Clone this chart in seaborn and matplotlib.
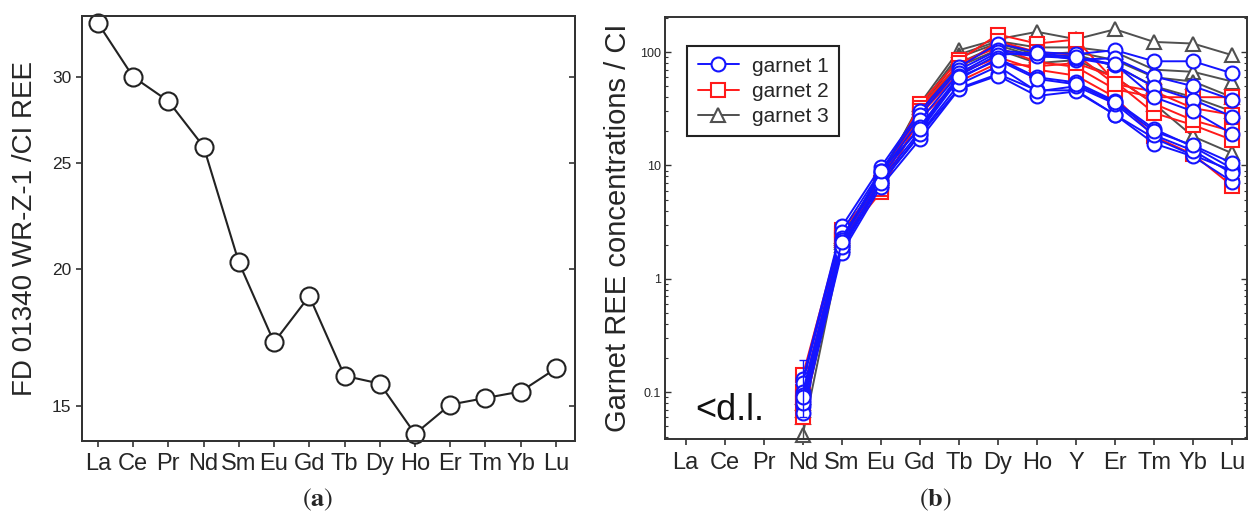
# Patrones de REE normalizados a condrito CI
# (a) roca total FD 01340 WR-Z-1, (b) granates

import pandas as pd
import matplotlib
matplotlib.use("Agg")
import matplotlib.pyplot as plt
import seaborn as sns
from matplotlib.lines import Line2D
from matplotlib.ticker import FixedLocator, NullLocator, FuncFormatter, LogLocator, NullFormatter

# ----------------------------------------------------------------
# Datos panel (a)
elementos_a = ['La', 'Ce', 'Pr', 'Nd', 'Sm', 'Eu', 'Gd', 'Tb', 'Dy', 'Ho', 'Er', 'Tm', 'Yb', 'Lu']
wr_ci = [33.6, 30.0, 28.5, 25.9, 20.3, 17.15, 18.9, 15.98, 15.72, 14.14, 15.04, 15.25, 15.46, 16.23]
ticks_a = [15, 20, 25, 30]

# Datos panel (b): La, Ce, Pr por debajo del limite de deteccion -> valores desde Nd hasta Lu
elementos_b = ['La', 'Ce', 'Pr', 'Nd', 'Sm', 'Eu', 'Gd', 'Tb', 'Dy', 'Ho', 'Y', 'Er', 'Tm', 'Yb', 'Lu']
medidos_b = ['Nd', 'Sm', 'Eu', 'Gd', 'Tb', 'Dy', 'Ho', 'Y', 'Er', 'Tm', 'Yb', 'Lu']
ticks_b = [0.1, 1, 10, 100]

garnet1 = [
    [0.13, 2.9, 9.7, 30, 74, 119, 100, 96, 104, 83, 83, 65],
    [0.12, 2.6, 9.0, 28, 70, 104, 96, 86, 88, 61, 50, 38],
    [0.10, 2.3, 8.5, 25, 65, 100, 92, 88, 77, 49, 38, 27],
    [0.095, 2.2, 8.0, 22, 62, 95, 98, 90, 78, 40, 30, 19],
    [0.085, 2.0, 7.5, 20, 58, 88, 60, 54, 37, 21, 14.6, 9.4],
    [0.075, 1.8, 7.0, 18.5, 48, 64, 46, 46, 28, 17.4, 12.3, 9.0],
    [0.065, 1.7, 6.5, 17, 47, 62, 41, 45, 28, 15.6, 12.0, 7.2],
    [0.08, 1.9, 7.0, 19, 52, 75, 45, 50, 35, 18.5, 13.5, 8.5],
    [0.09, 2.1, 9.0, 21, 60, 85, 58, 52, 36, 20, 15, 10.5],
]
garnet2 = [
    [0.14, 2.7, 7.0, 35, 85, 143, 119, 129, 55, 29, 22.7, 16.8],
    [0.10, 2.4, 6.5, 32, 80, 110, 82, 74, 47, 40, 40, 40],
    [0.06, 2.2, 5.8, 28, 65, 90, 70, 62, 40, 18, 12.5, 6.6],
    [0.08, 2.5, 6.2, 26, 55, 80, 75, 80, 60, 35, 25, 20],
    [0.09, 2.3, 6.8, 30, 72, 125, 100, 95, 52, 45, 32, 28],
]
garnet3 = [
    [0.042, 2.0, 8.0, 35, 104, 130, 151, 130, 159, 123, 119, 94],
    [0.06, 2.3, 8.5, 33, 95, 125, 110, 110, 100, 70, 67, 55],
    [0.08, 2.1, 7.5, 30, 80, 115, 90, 95, 75, 50, 40, 30],
    [0.07, 2.2, 7.8, 28, 75, 105, 80, 85, 60, 35, 18, 12.8],
    [0.09, 2.4, 8.0, 31, 90, 120, 95, 100, 85, 60, 55, 40],
]
# barras de error en Nd (primer analisis de cada grupo)
nd_err_g1 = [0.07, 0.06]   # [abajo, arriba]
nd_err_g3 = [0.005, 0.02]

colores = {'garnet 1': '#1414ff', 'garnet 2': '#ff1a1a', 'garnet 3': '#505050'}
marcadores = {'garnet 1': 'o', 'garnet 2': 's', 'garnet 3': '^'}

# ----------------------------------------------------------------
sns.set_style("ticks")
plt.rcParams['font.family'] = ['Liberation Sans', 'DejaVu Sans']
plt.rcParams['mathtext.fontset'] = 'stix'

fig = plt.figure(figsize=(12.5, 5.19), dpi=100)
ax1 = fig.add_axes([0.0656, 0.1503, 0.3944, 0.8189])
ax2 = fig.add_axes([0.532, 0.1541, 0.4656, 0.8131])

# ---------------- Panel (a) ----------------
df_a = pd.DataFrame({'pos': range(len(elementos_a)), 'valor': wr_ci})
sns.lineplot(data=df_a, x='pos', y='valor', ax=ax1, color='#222222', linewidth=1.5,
             marker='o', markersize=13, markerfacecolor='white',
             markeredgecolor='#222222', markeredgewidth=1.5, clip_on=False, zorder=5)

ax1.set_yscale('log')
ax1.set_ylim(13.93, 34.1)
ax1.set_xlim(-0.45, 13.54)
ax1.yaxis.set_major_locator(FixedLocator(ticks_a))
ax1.yaxis.set_major_formatter(FuncFormatter(lambda v, p: f'{v:g}'))
ax1.yaxis.set_minor_locator(NullLocator())
ax1.yaxis.set_minor_formatter(NullFormatter())
ax1.set_xticks(range(len(elementos_a)))
ax1.set_xticklabels(elementos_a, fontsize=17)
ax1.tick_params(axis='y', labelsize=12.5, length=4, width=1.2, color='#333333', direction='out')
ax1.tick_params(axis='x', length=4, width=1.2, color='#333333', direction='out', pad=5)
ax1.set_xlabel('')
ax1.set_ylabel('FD 01340 WR-Z-1 /CI REE', fontsize=20, labelpad=10)

# marcas interiores en el lado derecho
ax1r = ax1.twinx()
ax1r.set_yscale('log')
ax1r.set_ylim(ax1.get_ylim())
ax1r.yaxis.set_major_locator(FixedLocator(ticks_a))
ax1r.yaxis.set_major_formatter(NullFormatter())
ax1r.yaxis.set_minor_locator(NullLocator())
ax1r.yaxis.set_minor_formatter(NullFormatter())
ax1r.tick_params(axis='y', direction='in', length=4, width=1.2, color='#333333')

for a in (ax1, ax1r):
    for s in a.spines.values():
        s.set_linewidth(1.4)
        s.set_color('#333333')

# ---------------- Panel (b) ----------------
filas = []
for nombre, grupo in [('garnet 3', garnet3), ('garnet 2', garnet2), ('garnet 1', garnet1)]:
    for i, serie in enumerate(grupo):
        for el, v in zip(medidos_b, serie):
            filas.append({'grupo': nombre, 'muestra': f'{nombre}-{i}',
                          'pos': elementos_b.index(el), 'valor': v})
df_b = pd.DataFrame(filas)

for nombre in ['garnet 3', 'garnet 2', 'garnet 1']:
    sub = df_b[df_b['grupo'] == nombre]
    sns.lineplot(data=sub, x='pos', y='valor', units='muestra', estimator=None,
                 ax=ax2, color=colores[nombre], linewidth=1.4, marker=marcadores[nombre],
                 markersize=10 if nombre == 'garnet 1' else 10.5,
                 markerfacecolor='white', markeredgecolor=colores[nombre],
                 markeredgewidth=1.5, legend=False, clip_on=False)
    if nombre == 'garnet 3':
        ax2.errorbar([elementos_b.index('Nd')], [garnet3[0][0]],
                     yerr=[[nd_err_g3[0]], [nd_err_g3[1]]], color=colores[nombre],
                     lw=1.0, capsize=3, fmt='none')
    if nombre == 'garnet 1':
        ax2.errorbar([elementos_b.index('Nd')], [garnet1[0][0]],
                     yerr=[[nd_err_g1[0]], [nd_err_g1[1]]], color=colores[nombre],
                     lw=1.0, capsize=3, fmt='none')

ax2.set_yscale('log')
ax2.set_ylim(0.0385, 204)
ax2.set_xlim(-0.53, 14.38)
ax2.yaxis.set_major_locator(FixedLocator(ticks_b))
ax2.yaxis.set_major_formatter(FuncFormatter(lambda v, p: f'{v:g}'))
ax2.yaxis.set_minor_locator(LogLocator(base=10, subs=range(2, 10)))
ax2.yaxis.set_minor_formatter(NullFormatter())
ax2.set_xticks(range(len(elementos_b)))
ax2.set_xticklabels(elementos_b, fontsize=17)
ax2.tick_params(axis='y', which='major', labelsize=9, length=4, width=1.0,
                direction='in', left=True, right=True, color='#333333', pad=3)
ax2.tick_params(axis='y', which='minor', length=2.5, width=0.8,
                direction='in', left=True, right=True, color='#333333')
ax2.tick_params(axis='x', length=4, width=1.2, color='#333333', direction='out', pad=5)
ax2.set_xlabel('')
ax2.set_ylabel('Garnet REE concentrations / CI', fontsize=21, labelpad=6)
for s in ax2.spines.values():
    s.set_linewidth(1.4)
    s.set_color('#333333')

ax2.text(1.13, 0.069, '<d.l.', fontsize=26, ha='center', va='center', color='#111111')

handles = [Line2D([], [], color=colores[n], marker=marcadores[n], markersize=10,
                  markerfacecolor='white', markeredgecolor=colores[n],
                  markeredgewidth=1.5, linewidth=1.4, label=n)
           for n in ['garnet 1', 'garnet 2', 'garnet 3']]
leg = ax2.legend(handles=handles, loc='upper left', bbox_to_anchor=(0.038, 0.931),
                 borderaxespad=0, fontsize=15, frameon=True, fancybox=False,
                 framealpha=1, edgecolor='#222222', handlelength=2.0,
                 labelspacing=0.3, borderpad=0.5, handletextpad=0.6)
leg.get_frame().set_linewidth(1.5)

# Etiquetas de los paneles
fig.text(318 / 1250, 1 - 500 / 519, r'($\mathbf{a}$)', ha='center', va='center',
         fontsize=19, family='STIXGeneral')
fig.text(935 / 1250, 1 - 500 / 519, r'($\mathbf{b}$)', ha='center', va='center',
         fontsize=19, family='STIXGeneral')

fig.savefig('out.png', dpi=100)
